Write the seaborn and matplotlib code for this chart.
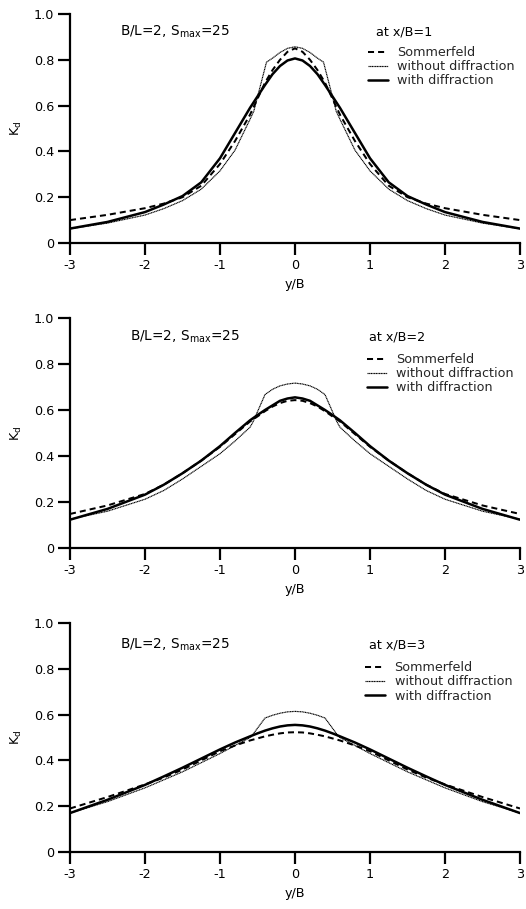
import matplotlib
matplotlib.use("Agg")
import matplotlib.pyplot as plt
import seaborn as sns

# Positions across the lee of the breakwater gap (y/B)
y_pos = [-3, -2.5, -2, -1.75, -1.5, -1.25, -1, -0.8, -0.6, -0.5, -0.4, -0.3, -0.2, -0.1, 0,
         0.1, 0.2, 0.3, 0.4, 0.5, 0.6, 0.8, 1, 1.25, 1.5, 1.75, 2, 2.5, 3]

# Positions for the "without diffraction" solution (kinks at the shadow boundaries)
y_nodiff_1 = [-3, -2.5, -2, -1.75, -1.5, -1.25, -1, -0.8, -0.6, -0.55, -0.38, -0.3, -0.2, -0.1, 0,
              0.1, 0.2, 0.3, 0.38, 0.55, 0.6, 0.8, 1, 1.25, 1.5, 1.75, 2, 2.5, 3]
y_nodiff_2 = [-3, -2.5, -2, -1.75, -1.5, -1.25, -1, -0.8, -0.6, -0.56, -0.4, -0.3, -0.2, -0.1, 0,
              0.1, 0.2, 0.3, 0.4, 0.56, 0.6, 0.8, 1, 1.25, 1.5, 1.75, 2, 2.5, 3]
y_nodiff_3 = [-3, -2.5, -2, -1.75, -1.5, -1.25, -1, -0.8, -0.6, -0.58, -0.4, -0.3, -0.2, -0.1, 0,
              0.1, 0.2, 0.3, 0.4, 0.58, 0.6, 0.8, 1, 1.25, 1.5, 1.75, 2, 2.5, 3]

# x/B = 1
sommerfeld_1 = [0.100, 0.123, 0.152, 0.172, 0.200, 0.250, 0.345, 0.445, 0.560, 0.630, 0.700, 0.755,
                0.800, 0.835, 0.850, 0.835, 0.800, 0.755, 0.700, 0.630, 0.560, 0.445, 0.345, 0.250,
                0.200, 0.172, 0.152, 0.123, 0.100]
nodiff_1 = [0.062, 0.087, 0.122, 0.150, 0.185, 0.235, 0.315, 0.405, 0.540, 0.575, 0.790, 0.807,
            0.832, 0.850, 0.857, 0.850, 0.832, 0.807, 0.790, 0.575, 0.540, 0.405, 0.315, 0.235,
            0.185, 0.150, 0.122, 0.087, 0.062]
withdiff_1 = [0.063, 0.092, 0.135, 0.168, 0.205, 0.265, 0.370, 0.480, 0.590, 0.640, 0.690, 0.737,
              0.773, 0.797, 0.806, 0.797, 0.773, 0.737, 0.690, 0.640, 0.590, 0.480, 0.370, 0.265,
              0.205, 0.168, 0.135, 0.092, 0.063]

# x/B = 2
sommerfeld_2 = [0.148, 0.185, 0.235, 0.275, 0.325, 0.380, 0.440, 0.495, 0.550, 0.572, 0.595, 0.615,
                0.630, 0.640, 0.643, 0.640, 0.630, 0.615, 0.595, 0.572, 0.550, 0.495, 0.440, 0.380,
                0.325, 0.275, 0.235, 0.185, 0.148]
nodiff_2 = [0.125, 0.160, 0.212, 0.250, 0.300, 0.355, 0.410, 0.465, 0.525, 0.548, 0.667, 0.690,
            0.705, 0.713, 0.717, 0.713, 0.705, 0.690, 0.667, 0.548, 0.525, 0.465, 0.410, 0.355,
            0.300, 0.250, 0.212, 0.160, 0.125]
withdiff_2 = [0.123, 0.170, 0.232, 0.275, 0.325, 0.380, 0.443, 0.500, 0.555, 0.578, 0.600, 0.620,
              0.640, 0.650, 0.655, 0.650, 0.640, 0.620, 0.600, 0.578, 0.555, 0.500, 0.443, 0.380,
              0.325, 0.275, 0.232, 0.170, 0.123]

# x/B = 3
sommerfeld_3 = [0.190, 0.240, 0.295, 0.325, 0.360, 0.400, 0.440, 0.465, 0.487, 0.496, 0.505, 0.512,
                0.518, 0.522, 0.523, 0.522, 0.518, 0.512, 0.505, 0.496, 0.487, 0.465, 0.440, 0.400,
                0.360, 0.325, 0.295, 0.240, 0.190]
nodiff_3 = [0.170, 0.220, 0.280, 0.315, 0.350, 0.390, 0.430, 0.465, 0.500, 0.505, 0.585, 0.597,
            0.606, 0.612, 0.614, 0.612, 0.606, 0.597, 0.585, 0.505, 0.500, 0.465, 0.430, 0.390,
            0.350, 0.315, 0.280, 0.220, 0.170]
withdiff_3 = [0.170, 0.228, 0.293, 0.330, 0.368, 0.408, 0.448, 0.478, 0.505, 0.518, 0.530, 0.540,
              0.548, 0.553, 0.555, 0.553, 0.548, 0.540, 0.530, 0.518, 0.505, 0.478, 0.448, 0.408,
              0.368, 0.330, 0.293, 0.228, 0.170]

panel_labels = ["at x/B=1", "at x/B=2", "at x/B=3"]
case_label = r"B/L=2, S$_{\mathrm{max}}$=25"
series_names = ["Sommerfeld", "without diffraction", "with diffraction"]
x_ticks = [-3, -2, -1, 0, 1, 2, 3]
x_tick_labels = ["-3", "-2", "-1", "0", "1", "2", "3"]
y_ticks = [0, 0.2, 0.4, 0.6, 0.8, 1.0]
y_tick_labels = ["0", "0.2", "0.4", "0.6", "0.8", "1.0"]

panels = [
    (sommerfeld_1, y_nodiff_1, nodiff_1, withdiff_1),
    (sommerfeld_2, y_nodiff_2, nodiff_2, withdiff_2),
    (sommerfeld_3, y_nodiff_3, nodiff_3, withdiff_3),
]

sns.set_theme(style="ticks")
plt.rcParams["font.family"] = ["DejaVu Sans"]
plt.rcParams["mathtext.fontset"] = "dejavusans"

FS = 9.2
W, H = 526, 909
fig = plt.figure(figsize=(W / 100, H / 100), dpi=100)

# axes boxes in pixels: (left, top, right, bottom)
boxes = [(70, 14, 520, 243), (70, 318, 520, 548), (70, 623, 520, 852)]
# per-panel annotation / legend placement in axes coordinates
text_pos = [((0.111, 0.923), 0.680, (0.662, 0.860)),
            ((0.133, 0.919), 0.665, (0.660, 0.846)),
            ((0.111, 0.904), 0.665, (0.656, 0.832))]

for i, (som, y_nd, nd, wd) in enumerate(panels):
    l, t, r, b = boxes[i]
    ax = fig.add_axes([l / W, 1 - b / H, (r - l) / W, (b - t) / H])
    ax.set_facecolor("white")

    sns.lineplot(x=y_pos, y=som, ax=ax, color="black", lw=1.45,
                 linestyle=(0, (3, 2)), estimator=None, sort=False, label=series_names[0])
    sns.lineplot(x=y_nd, y=nd, ax=ax, color="black", lw=0.85,
                 linestyle=(0, (1, 0.4)), estimator=None, sort=False, label=series_names[1])
    sns.lineplot(x=y_pos, y=wd, ax=ax, color="black", lw=1.8,
                 linestyle="-", estimator=None, sort=False, label=series_names[2])

    ax.set_xlim(-3, 3)
    ax.set_ylim(0, 1)
    ax.set_xticks(x_ticks)
    ax.set_xticklabels(x_tick_labels)
    ax.set_yticks(y_ticks)
    ax.set_yticklabels(y_tick_labels)
    ax.tick_params(axis="both", direction="out", length=8.5, width=1.6,
                   labelsize=FS, colors="black", pad=3)
    for side in ("top", "right"):
        ax.spines[side].set_visible(False)
    for side in ("left", "bottom"):
        ax.spines[side].set_linewidth(1.6)
        ax.spines[side].set_color("black")

    ax.set_xlabel("y/B", fontsize=FS, labelpad=4, color="black")
    ax.set_ylabel(r"K$_{\mathrm{d}}$", fontsize=FS, labelpad=7, color="black")

    (cx, cy), px_, (lx, ly) = text_pos[i]
    ax.text(cx, cy, case_label, transform=ax.transAxes, fontsize=9.8,
            va="center", ha="left", color="black")
    ax.text(px_, cy, panel_labels[i], transform=ax.transAxes, fontsize=FS,
            va="center", ha="left", color="black")

    ax.legend(loc="upper left", bbox_to_anchor=(lx, ly), frameon=False,
              fontsize=FS, handlelength=1.55, handletextpad=0.75,
              labelspacing=0.08, borderpad=0, borderaxespad=0)

fig.savefig("out.png", dpi=100, facecolor="white")
